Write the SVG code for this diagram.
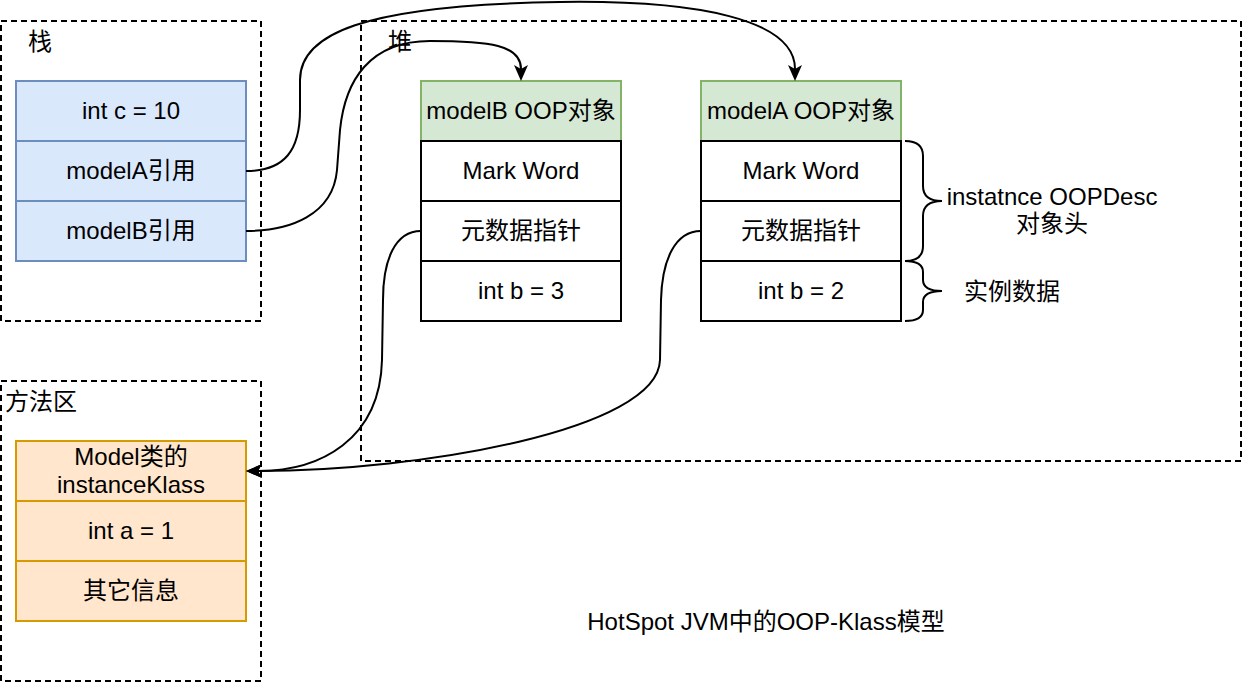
<svg xmlns="http://www.w3.org/2000/svg" width="1244" height="682" viewBox="0 0 1244 682">
<style>
text{font-family:"Liberation Sans","Noto Sans CJK SC",sans-serif;font-size:24px;fill:#000}
.c{text-anchor:middle}
.area{fill:none;stroke:#000;stroke-width:2;stroke-dasharray:6 4}
.blue{fill:#dae8fc;stroke:#6c8ebf;stroke-width:2}
.green{fill:#d5e8d4;stroke:#82b366;stroke-width:2}
.orange{fill:#ffe6cc;stroke:#d79b00;stroke-width:2}
.white{fill:#fff;stroke:#000;stroke-width:2}
.edge{fill:none;stroke:#000;stroke-width:2}
.brace{fill:none;stroke:#000;stroke-width:2}
</style>
<defs>
<marker id="arr" markerUnits="userSpaceOnUse" markerWidth="16" markerHeight="14" refX="4" refY="7" orient="auto" viewBox="0 0 16 14">
<path d="M0,0 L16,7 L0,14 L4,7 z" fill="#000"/>
</marker>
</defs>
<rect width="1244" height="682" fill="#fff"/>

<g id="stack-area">
<rect class="area" x="1" y="21" width="260" height="300"/>
<text x="28" y="50">栈</text>
</g>
<g id="heap-area">
<rect class="area" x="361" y="21" width="880" height="440"/>
<text x="388" y="50">堆</text>
</g>
<g id="method-area">
<rect class="area" x="1" y="381" width="260" height="300"/>
<text x="5" y="410">方法区</text>
</g>

<g id="stack-int-c">
<rect class="blue" x="16" y="81" width="230" height="60"/>
<text class="c" x="131" y="119">int c = 10</text>
</g>
<g id="stack-modelA">
<rect class="blue" x="16" y="141" width="230" height="60"/>
<text class="c" x="131" y="179">modelA引用</text>
</g>
<g id="stack-modelB">
<rect class="blue" x="16" y="201" width="230" height="60"/>
<text class="c" x="131" y="239">modelB引用</text>
</g>

<g id="modelB-oop">
<rect class="green" x="421" y="81" width="200" height="60"/>
<text class="c" x="521" y="119">modelB OOP对象</text>
<rect class="white" x="421" y="141" width="200" height="60"/>
<text class="c" x="521" y="179">Mark Word</text>
<rect class="white" x="421" y="201" width="200" height="60"/>
<text class="c" x="521" y="239">元数据指针</text>
<rect class="white" x="421" y="261" width="200" height="60"/>
<text class="c" x="521" y="299">int b = 3</text>
</g>

<g id="modelA-oop">
<rect class="green" x="701" y="81" width="200" height="60"/>
<text class="c" x="801" y="119">modelA OOP对象</text>
<rect class="white" x="701" y="141" width="200" height="60"/>
<text class="c" x="801" y="179">Mark Word</text>
<rect class="white" x="701" y="201" width="200" height="60"/>
<text class="c" x="801" y="239">元数据指针</text>
<rect class="white" x="701" y="261" width="200" height="60"/>
<text class="c" x="801" y="299">int b = 2</text>
</g>

<g id="klass">
<rect class="orange" x="16" y="441" width="230" height="60"/>
<text class="c" x="131" y="465">Model类的</text>
<text class="c" x="131" y="493">instanceKlass</text>
<rect class="orange" x="16" y="501" width="230" height="60"/>
<text class="c" x="131" y="539">int a = 1</text>
<rect class="orange" x="16" y="561" width="230" height="60"/>
<text class="c" x="131" y="599">其它信息</text>
</g>

<g id="header-brace">
<path class="brace" d="M905,141 Q923,141 923,156 L923,186 Q923,201 942,201 Q923,201 923,216 L923,246 Q923,261 905,261"/>
<text class="c" x="1052" y="205">instatnce OOPDesc</text>
<text class="c" x="1052" y="232">对象头</text>
</g>
<g id="data-brace">
<path class="brace" d="M905,261 Q923,261 923,272 L923,280 Q923,291 942,291 Q923,291 923,302 L923,310 Q923,321 905,321"/>
<text class="c" x="1012" y="300">实例数据</text>
</g>

<g id="title">
<text class="c" x="766" y="630">HotSpot JVM中的OOP-Klass模型</text>
</g>

<g id="connectors">
<path class="edge" marker-end="url(#arr)" d="M246,171 C285,171 300,150 300,110 L300,80 C300,35 360,5 560,2 C700,0 795,20 795,69"/>
<path class="edge" marker-end="url(#arr)" d="M246,231 C290,231 333,215 337,170 L340,130 C345,80 370,41 430,41 C490,41 521,45 521,69"/>
<path class="edge" marker-end="url(#arr)" d="M421,231 C395,231 383,260 383,300 L382,360 C380,440 320,471 258,471"/>
<path class="edge" marker-end="url(#arr)" d="M701,231 C675,231 662,260 661,300 L660,360 C658,430 420,471 258,471"/>
</g>
</svg>
